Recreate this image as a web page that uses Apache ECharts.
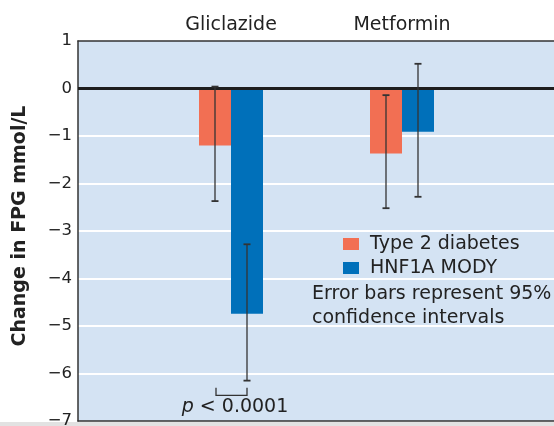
<!DOCTYPE html>
<html><head><meta charset="utf-8">
<script src="https://cdn.jsdelivr.net/npm/echarts@6.0.0/dist/echarts.min.js"></script>
<style>html,body{margin:0;padding:0;background:#fff}#c{width:554px;height:426px}</style>
</head><body><div id="c"></div>
<script>
// ---- data ----
const categories = ['Gliclazide', 'Metformin'];
const seriesNames = ['Type 2 diabetes', 'HNF1A MODY'];
const t2dValues = [-1.2, -1.37];
const modyValues = [-4.74, -0.91];
const t2dLow = [-2.37, -2.52];
const t2dHigh = [0.04, -0.14];
const modyLow = [-6.15, -2.28];
const modyHigh = [-3.28, 0.52];
const yMin = -7, yMax = 1, yStep = 1;
const yTitle = 'Change in FPG mmol/L';
const noteText = 'Error bars represent 95%\nconfidence intervals';

const FONT = 'DejaVu Sans';
const ORANGE = '#F26F53', BLUE = '#0070BA', BG = '#D4E3F3', INK = '#222';
const BAR_W = 32;
const FRAME = {show: true, onZero: false, lineStyle: {color: '#333', width: 1.5}};

const chart = echarts.init(document.getElementById('c'), null, {renderer: 'canvas'});

function errRender(offset) {
  return function (params, api) {
    const c = api.value(0);
    const lo = api.coord([c, api.value(1)]);
    const hi = api.coord([c, api.value(2)]);
    const x = lo[0] + offset;
    const st = {stroke: '#333', lineWidth: 1.3};
    return {type: 'group', children: [
      {type: 'line', shape: {x1: x, y1: hi[1], x2: x, y2: lo[1]}, style: st},
      {type: 'line', shape: {x1: x - 3.5, y1: hi[1], x2: x + 3.5, y2: hi[1]}, style: {stroke: '#333', lineWidth: 1.8}},
      {type: 'line', shape: {x1: x - 3.5, y1: lo[1], x2: x + 3.5, y2: lo[1]}, style: {stroke: '#333', lineWidth: 1.8}}
    ]};
  };
}

const option = {
  animation: false,
  backgroundColor: '#fff',
  textStyle: {fontFamily: FONT},
  grid: [
    {left: 78, top: 41, width: 540, height: 380, show: true, backgroundColor: BG,
     borderWidth: 0, containLabel: false, outerBoundsMode: 'none'},
    {left: 145.5, top: 41, width: 342, height: 380, containLabel: false, outerBoundsMode: 'none'}
  ],
  xAxis: [
    {gridIndex: 0, type: 'value', min: 0, max: 1, position: 'top',
     axisLine: FRAME, axisTick: {show: false}, axisLabel: {show: false}, splitLine: {show: false}},
    {gridIndex: 1, type: 'category', data: categories, position: 'top',
     axisLine: {show: false}, axisTick: {show: false}, splitLine: {show: false},
     axisLabel: {fontSize: 19, color: INK, fontFamily: FONT, margin: 6, interval: 0}},
    {gridIndex: 0, type: 'value', min: 0, max: 1, position: 'bottom',
     axisLine: FRAME, axisTick: {show: false}, axisLabel: {show: false}, splitLine: {show: false}}
  ],
  yAxis: [
    {gridIndex: 0, type: 'value', min: yMin, max: yMax, interval: yStep,
     axisLine: FRAME, axisTick: {show: false},
     splitLine: {show: true, showMinLine: false, showMaxLine: false, lineStyle: {color: '#fff', width: 2}},
     axisLabel: {fontSize: 16.5, color: INK, fontFamily: FONT, margin: 6,
       formatter: v => (v < 0 ? '\u2212' + Math.abs(v) : String(v))}},
    {gridIndex: 1, type: 'value', min: yMin, max: yMax, interval: yStep, show: false,
     splitLine: {show: false}}
  ],
  legend: {
    data: seriesNames, orient: 'vertical', left: 343, top: 234,
    icon: 'rect', itemWidth: 16, itemHeight: 12, itemGap: 4,
    textStyle: {fontSize: 19, color: INK, fontFamily: FONT, lineHeight: 20, padding: [0, 0, 0, 6]},
    selectedMode: false, padding: 0
  },
  series: [
    {name: seriesNames[0], type: 'bar', xAxisIndex: 1, yAxisIndex: 1, data: t2dValues,
     barWidth: BAR_W, barGap: '0%', itemStyle: {color: ORANGE}, z: 2},
    {name: seriesNames[1], type: 'bar', xAxisIndex: 1, yAxisIndex: 1, data: modyValues,
     barWidth: BAR_W, barGap: '0%', itemStyle: {color: BLUE}, z: 2},
    {name: 'zero', type: 'line', xAxisIndex: 0, yAxisIndex: 0, data: [], z: 10,
     markLine: {silent: true, symbol: 'none', label: {show: false},
       lineStyle: {color: '#1e1e1e', width: 3, type: 'solid'}, data: [{yAxis: 0}]}},
    {name: 'errT2D', type: 'custom', xAxisIndex: 1, yAxisIndex: 1, z: 12,
     renderItem: errRender(-BAR_W / 2),
     data: categories.map((c, i) => [i, t2dLow[i], t2dHigh[i]])},
    {name: 'errMODY', type: 'custom', xAxisIndex: 1, yAxisIndex: 1, z: 12,
     renderItem: errRender(BAR_W / 2),
     data: categories.map((c, i) => [i, modyLow[i], modyHigh[i]])}
  ]
};
chart.setOption(option);

// annotations positioned from the axes
const toPx = (cat, v) => chart.convertToPixel({xAxisIndex: 1, yAxisIndex: 1}, [cat, v]);
const br = toPx(0, -6.46);
const brTop = toPx(0, -6.3);
const pPos = toPx(0, -6.7);
const bottomY = chart.convertToPixel({yAxisIndex: 0}, yMin);

chart.setOption({
  graphic: [
    {type: 'text', x: 20, y: 226, rotation: Math.PI / 2, z: 20,
     style: {text: yTitle, font: 'bold 19px "' + FONT + '"', fill: INK, align: 'center', verticalAlign: 'middle'}},
    {type: 'text', left: 312, top: 282, z: 20,
     style: {text: noteText, font: '19px "' + FONT + '"', fill: INK, lineHeight: 24}},
    {type: 'polyline', z: 20,
     shape: {points: [[br[0] - 15, brTop[1]], [br[0] - 15, br[1]], [br[0] + 16, br[1]], [br[0] + 16, brTop[1]]]},
     style: {stroke: '#333', lineWidth: 1.3, fill: null}},
    {type: 'text', x: pPos[0] + 4, y: pPos[1], z: 20,
     style: {text: '{i|p} < 0.0001', align: 'center', verticalAlign: 'middle',
       font: '19px "' + FONT + '"', fill: INK,
       rich: {i: {fontStyle: 'italic', fontSize: 19, fontFamily: FONT, fill: INK}}}},
    {type: 'rect', z: 0, shape: {x: 0, y: bottomY + 1, width: 554, height: 10},
     style: {fill: '#e2e2e2'}}
  ]
});
</script>
</body></html>
